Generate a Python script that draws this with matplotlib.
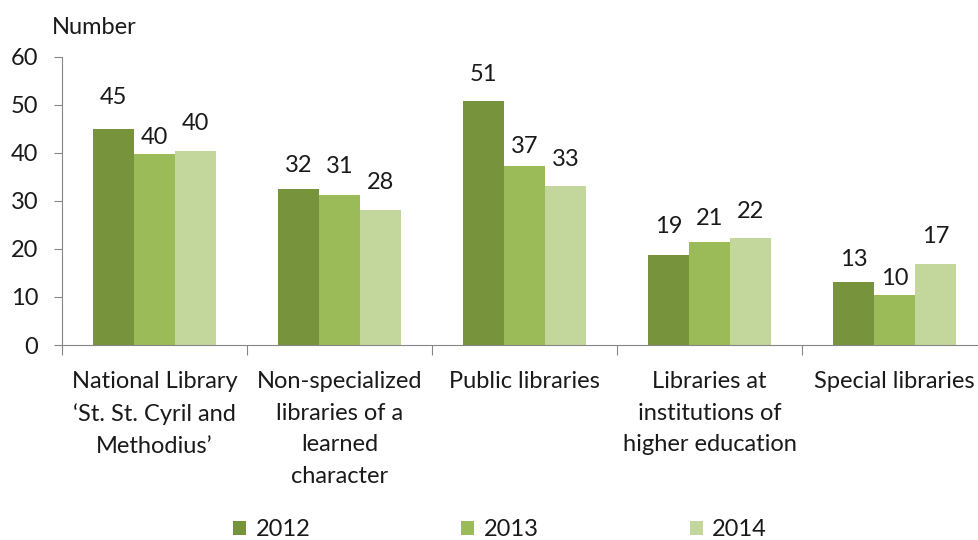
import matplotlib
matplotlib.use('Agg')
import matplotlib.pyplot as plt
import numpy as np

plt.rcParams['font.family'] = ['Lato', 'DejaVu Sans']

# Library visits by type of library
categories = [
    "National Library\n\u2018St. St. Cyril and\nMethodius\u2019",
    "Non-specialized\nlibraries of a\nlearned\ncharacter",
    "Public libraries",
    "Libraries at\ninstitutions of\nhigher education",
    "Special libraries",
]
years = ['2012', '2013', '2014']
values_2012 = [44.9, 32.4, 50.8, 18.7, 13.1]
values_2013 = [39.8, 31.3, 37.2, 21.4, 10.4]
values_2014 = [40.4, 28.1, 33.0, 22.2, 16.9]

# vertical gap (pixels) between bar top and the centre of its value label
label_lift = [
    [32, 24, 26, 29, 23],
    [16, 28, 20, 24, 17],
    [27, 27, 27, 27, 27],
]

colors = ['#77933C', '#9BBB59', '#C3D69B']
axis_grey = '#868686'
text_color = '#1a1a1a'
fs = 17

fig = plt.figure(figsize=(9.79, 5.40), dpi=100)
ax = fig.add_axes([62 / 979, 195 / 540, 925 / 979, 288.3 / 540])

x = np.arange(len(categories))
width = 0.222
series = [values_2012, values_2013, values_2014]
for i, (vals, col, yr) in enumerate(zip(series, colors, years)):
    pos = x + (i - 1) * width
    bars = ax.bar(pos, vals, width, color=col, label=yr, zorder=2)
    for rect, v, lift in zip(bars, vals, label_lift[i]):
        ax.annotate(f'{v:.0f}', (rect.get_x() + rect.get_width() / 2, v),
                    xytext=(0, lift * 0.72), textcoords='offset points',
                    ha='center', va='center', fontsize=fs, color=text_color)

ax.set_xlim(-0.5, len(categories) - 0.5)
ax.set_ylim(0, 60)
ax.set_yticks(range(0, 61, 10))
ax.tick_params(axis='y', direction='out', length=6, color=axis_grey,
               labelsize=fs, labelcolor=text_color, pad=11)

# category boundaries carry the ticks, names sit centred between them
ax.set_xticks(np.arange(len(categories)) - 0.5)
ax.set_xticklabels([])
ax.tick_params(axis='x', direction='out', length=7, color=axis_grey)
for xi, name in zip(x, categories):
    ax.text(xi, -0.09, name, transform=ax.get_xaxis_transform(),
            ha='center', va='top', fontsize=fs, color=text_color,
            linespacing=1.63)

for side in ['top', 'right']:
    ax.spines[side].set_visible(False)
for side in ['left', 'bottom']:
    ax.spines[side].set_color(axis_grey)

fig.text(52 / 979, 1 - 27 / 540, 'Number', ha='left', va='center',
         fontsize=fs, color=text_color)

leg = fig.legend(loc='center', bbox_to_anchor=(500 / 979, 1 - 530 / 540),
                 ncol=3, frameon=False, fontsize=fs, handlelength=0.55,
                 handleheight=0.55, handletextpad=0.4, columnspacing=6.4)
for t in leg.get_texts():
    t.set_color(text_color)

fig.savefig('out.png', dpi=100)
